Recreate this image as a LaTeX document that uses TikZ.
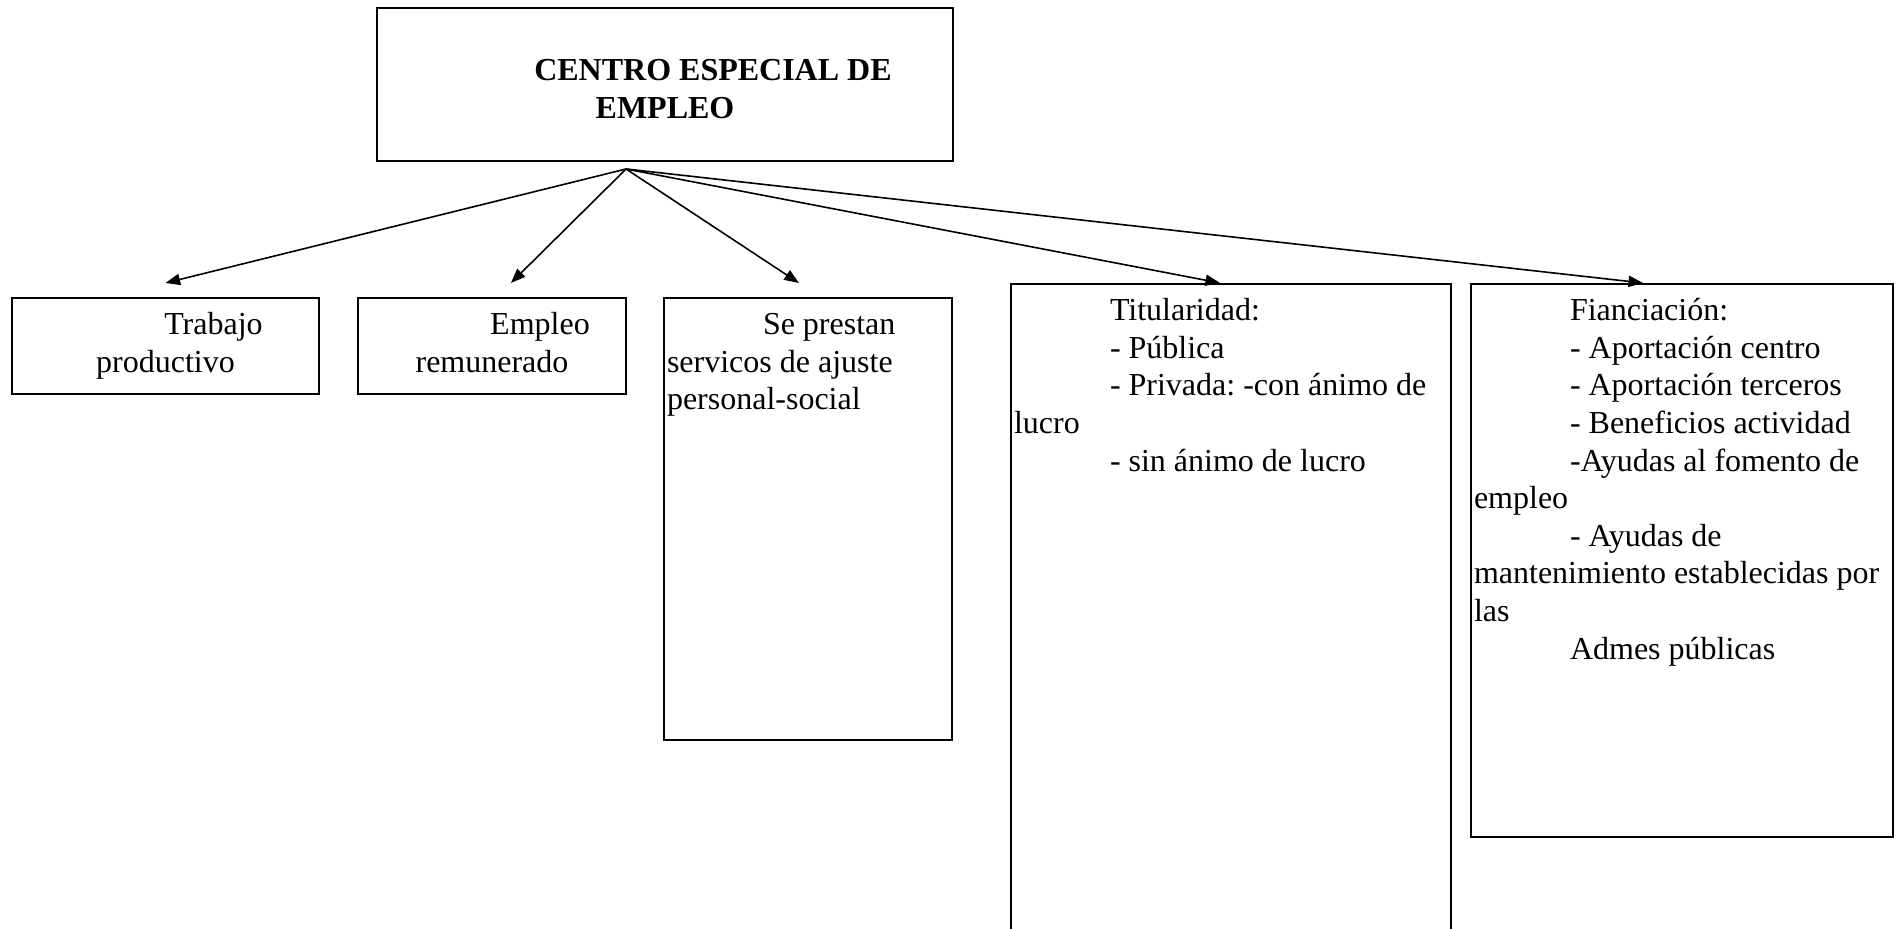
\documentclass[tikz,border=0pt]{standalone}
\usepackage{fontspec}
\setmainfont{Liberation Serif}
\usetikzlibrary{positioning,arrows.meta}

\begin{document}
\begin{tikzpicture}[x=0.375pt,y=-0.375pt,
		caja/.style={draw,line width=0.75pt,inner sep=0pt,anchor=north west},
		texto/.style={inner sep=0pt,font=\fontsize{12}{14.1}\selectfont\frenchspacing},
		flecha/.style={-{Triangle[length=5.5pt,width=4.2pt]},line width=0.6pt}]
			\useasboundingbox (0,0) rectangle (1902,929);
			\node[caja,minimum width=216pt,minimum height=57.4pt] (centro) at (376,7) {};
			\node[caja,minimum width=115.1pt,minimum height=36pt] (trabajo) at (11,297) {};
			\node[caja,minimum width=100.5pt,minimum height=36pt] (empleo) at (357,297) {};
			\node[caja,minimum width=108pt,minimum height=165.75pt] (servicios) at (663,297) {};
			\node[caja,minimum width=165pt,minimum height=254pt] (titular) at (1010,283) {};
			\node[caja,minimum width=158.25pt,minimum height=207.4pt] (financ) at (1470,283) {};
			
			\node[texto,font=\fontsize{12}{14.1}\selectfont\bfseries,text width=213.4pt,align=flush center,below=17.5pt of centro.north] (centroT)
				{\hspace*{36pt}\strut CENTRO ESPECIAL DE\\EMPLEO};
			\node[texto,text width=112.5pt,align=flush center,below=4.1pt of trabajo.north] (trabajoT)
				{\hspace*{36pt}\strut Trabajo\\productivo};
			\node[texto,text width=97.9pt,align=flush center,below=4.1pt of empleo.north] (empleoT)
				{\hspace*{36pt}\strut Empleo\\remunerado};
			\node[texto,text width=105.4pt,align=flush left,below right=4.1pt and 1.3pt of servicios.north west] (serviciosT)
				{\hspace*{36pt}\strut Se prestan\\servicos de ajuste\\personal-social};
			\node[texto,text width=162.4pt,align=flush left,below right=4.1pt and 1.3pt of titular.north west] (titularT)
				{\hspace*{36pt}\strut Titularidad:\\
				\hspace*{36pt}- Pública\\
				\hspace*{36pt}- Privada: -con ánimo de\\
				lucro\\
				\hspace*{36pt}- sin ánimo de lucro};
			\node[texto,text width=155.6pt,align=flush left,below right=4.1pt and 1.3pt of financ.north west] (financT)
				{\hspace*{36pt}\strut Fianciación:\\
				\hspace*{36pt}- Aportación centro\\
				\hspace*{36pt}- Aportación terceros\\
				\hspace*{36pt}- Beneficios actividad\\
				\hspace*{36pt}-Ayudas al fomento de\\
				empleo\\
				\hspace*{36pt}- Ayudas de\\
				mantenimiento establecidas por\\
				las\\
				\hspace*{36pt}Admes públicas};
			
			\coordinate (hub) at ([xshift=-14.6pt,yshift=-2.6pt]centro.south);
			\draw[flecha] (hub) -- ([yshift=5.25pt]trabajo.north);
			\draw[flecha] (hub) -- ([xshift=7.1pt,yshift=5.25pt]empleo.north);
			\draw[flecha] (hub) -- ([xshift=-3.4pt,yshift=5.25pt]servicios.north);
			\draw[flecha] (hub) -- ([xshift=-4.1pt]titular.north);
			\draw[flecha] (hub) -- ([xshift=-14.6pt]financ.north);
		\end{tikzpicture}
\end{document}
